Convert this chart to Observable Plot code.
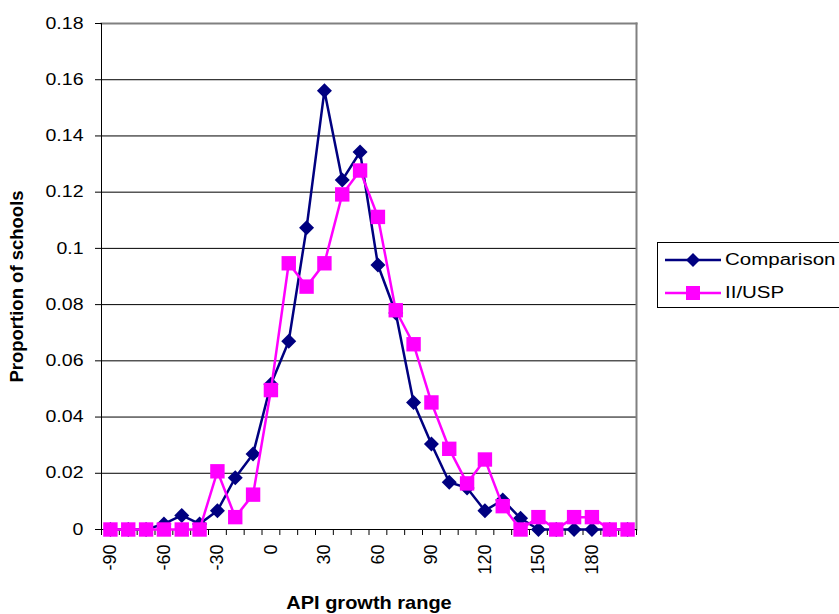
<!DOCTYPE html>
<html>
<head>
<meta charset="utf-8">
<script src="https://cdn.jsdelivr.net/npm/d3@7"></script>
<script src="https://cdn.jsdelivr.net/npm/@observablehq/plot@0.6"></script>
<style>
  html, body { margin: 0; padding: 0; background: #fff; }
  #wrap { position: relative; width: 839px; height: 614px; overflow: hidden; font-family: "Liberation Sans", Arial, sans-serif; }
  #wrap svg.plot text { fill: #000; }
  g[aria-label="x-axis label"] text, g[aria-label="y-axis label"] text { font-weight: bold; font-size: 18.5px; }
  g[aria-label="x-axis tick label"] text { font-size: 18px; }
  #legend { position: absolute; left: 657px; top: 242px; width: 220px; height: 66px; border: 1px solid #000; background: #fff; box-sizing: border-box; }
  #legend .row { position: absolute; left: 7px; height: 20px; display: flex; align-items: center; font-size: 16px; }
  #legend svg { margin-right: 4px; }
  #legend span { display: inline-block; transform: scaleX(1.28); transform-origin: left center; }
</style>
</head>
<body>
<div id="wrap"></div>
<script>
const categories = [-90,-80,-70,-60,-50,-40,-30,-20,-10,0,10,20,30,40,50,60,70,80,90,100,110,120,130,140,150,160,170,180,190,200];
const comparison = [0,0,0,0.002,0.005,0.002,0.0067,0.0184,0.0269,0.0517,0.067,0.1073,0.1561,0.1243,0.1343,0.0941,0.077,0.0452,0.0304,0.0168,0.0148,0.0067,0.0105,0.004,0,0,0,0,0,0];
const iiusp = [0,0,0,0,0,0,0.0207,0.0044,0.0124,0.0496,0.0947,0.0864,0.0947,0.1192,0.1277,0.1112,0.078,0.0659,0.0452,0.0287,0.0164,0.0249,0.0083,0,0.0044,0,0.0044,0.0044,0,0];
const xTickLabels = [-90,-60,-30,0,30,60,90,120,150,180];
const yTicks = [0,0.02,0.04,0.06,0.08,0.1,0.12,0.14,0.16,0.18];
const seriesNames = ["Comparison","II/USP"];
const seriesColors = ["#000080","#FF00FF"];

const step = categories[1] - categories[0];
const boundaries = categories.map(c => c - step / 2).concat([categories[categories.length - 1] + step / 2]);

const compData = categories.map((c, i) => ({x: c, y: comparison[i]}));
const uspData = categories.map((c, i) => ({x: c, y: iiusp[i]}));

const diamond = {draw(ctx, size) { const r = Math.sqrt(size / Math.PI); ctx.moveTo(0, -r); ctx.lineTo(r, 0); ctx.lineTo(0, r); ctx.lineTo(-r, 0); ctx.closePath(); }};
const square = {draw(ctx, size) { const r = Math.sqrt(size / Math.PI); ctx.rect(-r, -r, 2 * r, 2 * r); }};

const chart = Plot.plot({
  width: 839,
  height: 614,
  marginLeft: 101,
  marginRight: 203,
  marginTop: 23,
  marginBottom: 85,
  style: {fontFamily: "'Liberation Sans', Arial, sans-serif", fontSize: "16px", background: "#fff", overflow: "visible"},
  x: {type: "linear", domain: [boundaries[0], boundaries[boundaries.length - 1]]},
  y: {domain: [yTicks[0], yTicks[yTicks.length - 1]]},
  marks: [
    Plot.gridY(yTicks.slice(1, -1), {stroke: "#000", strokeOpacity: 1, strokeWidth: 1}),
    Plot.frame({anchor: "top", stroke: "#808080", strokeWidth: 2}),
    Plot.frame({anchor: "right", stroke: "#808080", strokeWidth: 2}),
    Plot.axisY(yTicks, {tickSize: 6, tickPadding: 12, tickFormat: d => String(+d.toFixed(2)), stroke: "#000", label: "Proportion of schools", labelArrow: "none", labelAnchor: "center", labelOffset: 92}),
    Plot.axisX(boundaries, {tickSize: 6, tickFormat: () => "", stroke: "#000", label: null}),
    Plot.axisX(xTickLabels, {tickSize: 0, tickPadding: 15, tickRotate: -90, tickFormat: d => String(d), label: "API growth range", labelArrow: "none", labelAnchor: "center", labelOffset: 79}),
    Plot.ruleX([boundaries[0]], {stroke: "#000", strokeWidth: 1}),
    Plot.ruleY([0], {stroke: "#000", strokeWidth: 1}),
    Plot.line(compData, {x: "x", y: "y", stroke: seriesColors[0], strokeWidth: 2.5}),
    Plot.dot(compData, {x: "x", y: "y", symbol: diamond, r: 7.5, fill: seriesColors[0], stroke: "none"}),
    Plot.line(uspData, {x: "x", y: "y", stroke: seriesColors[1], strokeWidth: 2.5}),
    Plot.dot(uspData, {x: "x", y: "y", symbol: square, r: 7.2, fill: seriesColors[1], stroke: "none"})
  ]
});
const wrap = document.getElementById("wrap");
wrap.appendChild(chart);

// Horizontal text widening to match the reference's wide glyphs
function widen(selector, k) {
  chart.querySelectorAll(selector).forEach(t => {
    const L = t.getComputedTextLength();
    if (L > 0) { t.setAttribute("textLength", (L * k).toFixed(1)); t.setAttribute("lengthAdjust", "spacingAndGlyphs"); }
  });
}
widen('g[aria-label="y-axis tick label"] text', 1.22);
widen('g[aria-label="x-axis label"] text', 1.08);

// Nudge the y-axis title down slightly, keeping Plot's own transform
const yLab = chart.querySelector('g[aria-label="y-axis label"]');
if (yLab) {
  const tr = yLab.getAttribute("transform") || "";
  yLab.setAttribute("transform", (tr + " translate(0,10)").trim());
}

// Legend
const legend = document.createElement("div");
legend.id = "legend";
const syms = ["diamond", "square"];
seriesNames.forEach((name, i) => {
  const row = document.createElement("div");
  row.className = "row";
  row.style.top = (i === 0 ? 7 : 40) + "px";
  const marker = syms[i] === "diamond"
    ? `<path d="M28,3 L35,10 L28,17 L21,10 Z" fill="${seriesColors[i]}"/>`
    : `<rect x="21" y="3" width="14" height="14" fill="${seriesColors[i]}"/>`;
  row.innerHTML = `<svg width="56" height="20"><line x1="0" y1="10" x2="56" y2="10" stroke="${seriesColors[i]}" stroke-width="2.5"/>${marker}</svg><span>${name}</span>`;
  legend.appendChild(row);
});
wrap.appendChild(legend);
</script>
</body>
</html>
